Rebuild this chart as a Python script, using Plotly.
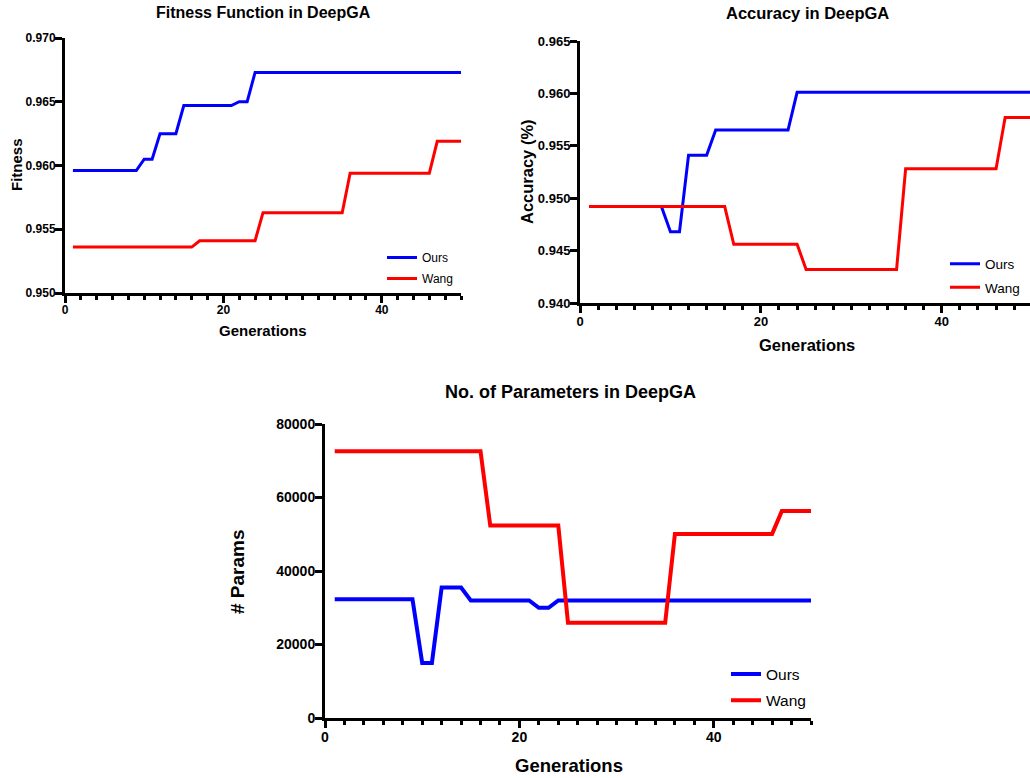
import plotly.graph_objects as go

W, H = 1030, 778

generations = list(range(1, 51))

fitness_ours = [
    0.9596, 0.9596, 0.9596, 0.9596, 0.9596, 0.9596, 0.9596, 0.9596, 0.9596, 0.9605,
    0.9605, 0.9625, 0.9625, 0.9625, 0.9647, 0.9647, 0.9647, 0.9647, 0.9647, 0.9647,
    0.9647, 0.9650, 0.9650, 0.9673, 0.9673, 0.9673, 0.9673, 0.9673, 0.9673, 0.9673,
    0.9673, 0.9673, 0.9673, 0.9673, 0.9673, 0.9673, 0.9673, 0.9673, 0.9673, 0.9673,
    0.9673, 0.9673, 0.9673, 0.9673, 0.9673, 0.9673, 0.9673, 0.9673, 0.9673, 0.9673,
]
fitness_wang = [
    0.9536, 0.9536, 0.9536, 0.9536, 0.9536, 0.9536, 0.9536, 0.9536, 0.9536, 0.9536,
    0.9536, 0.9536, 0.9536, 0.9536, 0.9536, 0.9536, 0.9541, 0.9541, 0.9541, 0.9541,
    0.9541, 0.9541, 0.9541, 0.9541, 0.9563, 0.9563, 0.9563, 0.9563, 0.9563, 0.9563,
    0.9563, 0.9563, 0.9563, 0.9563, 0.9563, 0.9594, 0.9594, 0.9594, 0.9594, 0.9594,
    0.9594, 0.9594, 0.9594, 0.9594, 0.9594, 0.9594, 0.9619, 0.9619, 0.9619, 0.9619,
]
accuracy_ours = [
    0.9492, 0.9492, 0.9492, 0.9492, 0.9492, 0.9492, 0.9492, 0.9492, 0.9492, 0.9468,
    0.9468, 0.9541, 0.9541, 0.9541, 0.9565, 0.9565, 0.9565, 0.9565, 0.9565, 0.9565,
    0.9565, 0.9565, 0.9565, 0.9601, 0.9601, 0.9601, 0.9601, 0.9601, 0.9601, 0.9601,
    0.9601, 0.9601, 0.9601, 0.9601, 0.9601, 0.9601, 0.9601, 0.9601, 0.9601, 0.9601,
    0.9601, 0.9601, 0.9601, 0.9601, 0.9601, 0.9601, 0.9601, 0.9601, 0.9601, 0.9601,
]
accuracy_wang = [
    0.9492, 0.9492, 0.9492, 0.9492, 0.9492, 0.9492, 0.9492, 0.9492, 0.9492, 0.9492,
    0.9492, 0.9492, 0.9492, 0.9492, 0.9492, 0.9492, 0.9456, 0.9456, 0.9456, 0.9456,
    0.9456, 0.9456, 0.9456, 0.9456, 0.9432, 0.9432, 0.9432, 0.9432, 0.9432, 0.9432,
    0.9432, 0.9432, 0.9432, 0.9432, 0.9432, 0.9528, 0.9528, 0.9528, 0.9528, 0.9528,
    0.9528, 0.9528, 0.9528, 0.9528, 0.9528, 0.9528, 0.9577, 0.9577, 0.9577, 0.9577,
]
params_ours = [
    32300, 32300, 32300, 32300, 32300, 32300, 32300, 32300, 32300, 15000,
    15000, 35500, 35500, 35500, 32000, 32000, 32000, 32000, 32000, 32000,
    32000, 30000, 30000, 32000, 32000, 32000, 32000, 32000, 32000, 32000,
    32000, 32000, 32000, 32000, 32000, 32000, 32000, 32000, 32000, 32000,
    32000, 32000, 32000, 32000, 32000, 32000, 32000, 32000, 32000, 32000,
]
params_wang = [
    72600, 72600, 72600, 72600, 72600, 72600, 72600, 72600, 72600, 72600,
    72600, 72600, 72600, 72600, 72600, 72600, 52400, 52400, 52400, 52400,
    52400, 52400, 52400, 52400, 25900, 25900, 25900, 25900, 25900, 25900,
    25900, 25900, 25900, 25900, 25900, 50100, 50100, 50100, 50100, 50100,
    50100, 50100, 50100, 50100, 50100, 50100, 56300, 56300, 56300, 56300,
]

series_names = ["Ours", "Wang"]
series_colors = ["#0000FF", "#FF0000"]

FONT = "Liberation Sans, Arial, sans-serif"


def px_x(p):
    return p / W


def px_y(p):
    return 1 - p / H


fig = go.Figure()

panels = [
    ("x", "y", "legend", fitness_ours, fitness_wang, 3),
    ("x2", "y2", "legend2", accuracy_ours, accuracy_wang, 3),
    ("x3", "y3", "legend3", params_ours, params_wang, 4),
]

for xa, ya, lg, ours, wang, lw in panels:
    for name, vals, col in zip(series_names, [ours, wang], series_colors):
        fig.add_trace(go.Scatter(
            x=generations, y=vals, mode="lines", name=name,
            line=dict(color=col, width=lw),
            xaxis=xa, yaxis=ya, legend=lg, legendgroup=lg + name,
        ))


def xaxis_style(dom, rng, tick_size, anchor):
    return dict(
        domain=[px_x(dom[0]), px_x(dom[1])], range=rng, anchor=anchor,
        showline=True, linecolor="black", linewidth=3,
        showgrid=False, zeroline=False, automargin=False,
        ticks="outside", ticklen=7, tickwidth=2.5, tickcolor="black",
        tick0=0, dtick=20, ticklabelstandoff=-3,
        minor=dict(dtick=2, tick0=0, ticks="outside", ticklen=4, tickwidth=2.5, tickcolor="black"),
        tickfont=dict(family=FONT, size=tick_size, color="black", weight="bold"),
    )


def yaxis_style(dom, rng, dtick, fmt, tick_size, anchor):
    return dict(
        domain=[px_y(dom[1]), px_y(dom[0])], range=rng, anchor=anchor,
        showline=True, linecolor="black", linewidth=3,
        showgrid=False, zeroline=False, automargin=False,
        ticks="outside", ticklen=7, tickwidth=2.5, tickcolor="black",
        tick0=0, dtick=dtick, tickformat=fmt, ticklabelstandoff=-3,
        tickfont=dict(family=FONT, size=tick_size, color="black", weight="bold"),
    )


def legend_style(text_x, mid_y, size, gap):
    return dict(
        x=px_x(text_x - 40), y=px_y(mid_y), xanchor="left", yanchor="middle",
        bgcolor="rgba(0,0,0,0)", borderwidth=0, tracegroupgap=gap,
        font=dict(family=FONT, size=size, color="black"),
    )


def label(text, x, y, size, angle=0):
    return dict(
        text=text, x=px_x(x), y=px_y(y), xref="paper", yref="paper",
        xanchor="center", yanchor="middle", showarrow=False, textangle=angle,
        font=dict(family=FONT, size=size, color="black", weight="bold"),
    )


fig.update_layout(
    width=W, height=H,
    margin=dict(l=0, r=0, t=0, b=0, autoexpand=False),
    paper_bgcolor="white", plot_bgcolor="white",
    showlegend=True,
    xaxis=xaxis_style((65, 461), [0, 50], 12, "y"),
    yaxis=yaxis_style((38, 293), [0.950, 0.970], 0.005, ".3f", 12, "x"),
    xaxis2=xaxis_style((580, 1030), [0, 49.75], 13, "y2"),
    yaxis2=yaxis_style((41, 303), [0.940, 0.965], 0.005, ".3f", 13, "x2"),
    xaxis3=xaxis_style((325, 811), [0, 50], 14, "y3"),
    yaxis3=yaxis_style((424, 718), [0, 80000], 20000, "d", 14, "x3"),
    legend=legend_style(422, 268, 12, 2),
    legend2=legend_style(985, 276, 13.5, 3),
    legend3=legend_style(766, 687.5, 15.5, 3),
    annotations=[
        label("Fitness Function in DeepGA", 263, 12, 16),
        label("Generations", 263, 330, 15),
        label("Fitness", 16, 165, 15, -90),
        label("Accuracy in DeepGA", 807, 13, 16.5),
        label("Generations", 807, 345, 16.5),
        label("Accuracy (%)", 527, 172, 16.5, -90),
        label("No. of Parameters in DeepGA", 570, 392, 18),
        label("Generations", 569, 765, 18.5),
        label("# Params", 237, 572, 19, -90),
    ],
)

fig.write_html(
    "out.html",
    config={"displayModeBar": False},
    post_script="document.body.style.margin='0';document.body.style.overflow='hidden';",
)
